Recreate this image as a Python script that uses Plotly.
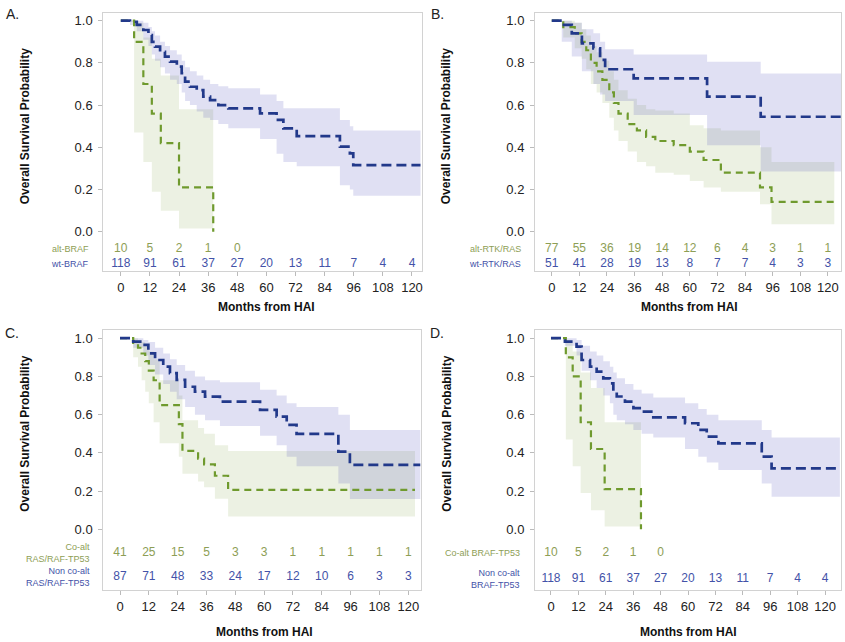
import plotly.graph_objects as go

months = [0, 12, 24, 36, 48, 60, 72, 84, 96, 108, 120]
y_ticks = [0.0, 0.2, 0.4, 0.6, 0.8, 1.0]
y_ticktext = ["0.0", "0.2", "0.4", "0.6", "0.8", "1.0"]

# ---------- Panel A ----------
a_alt_t = [0, 5.5, 9.3, 12.8, 16.5, 24.0, 38.1]
a_alt_s = [1.0, 0.90, 0.70, 0.56, 0.42, 0.21, 0.0]
a_alt_hi = [1.0, 0.99, 0.92, 0.82, 0.74, 0.58]
a_alt_lo = [1.0, 0.47, 0.33, 0.19, 0.10, 0.015]
a_wt_t = [0, 3.8, 6.6, 9.3, 11.4, 12.8, 14.1, 16.2, 18.2, 20.3, 23.1, 25.1, 26.5, 28.5, 31.3, 34.0, 36.8, 40.2, 44.3, 57.4, 64.2, 67.0, 72.5, 90.3, 94.4, 95.8]
a_wt_s = [1.0, 0.995, 0.98, 0.956, 0.932, 0.90, 0.877, 0.853, 0.83, 0.806, 0.782, 0.751, 0.711, 0.687, 0.671, 0.640, 0.624, 0.600, 0.585, 0.561, 0.53, 0.49, 0.453, 0.403, 0.371, 0.316]
a_wt_hi = [1.0, 1.0, 1.0, 0.99, 0.97, 0.95, 0.93, 0.90, 0.88, 0.86, 0.84, 0.81, 0.78, 0.76, 0.74, 0.72, 0.70, 0.69, 0.68, 0.65, 0.62, 0.585, 0.585, 0.53, 0.50, 0.48]
a_wt_lo = [1.0, 0.98, 0.95, 0.91, 0.88, 0.84, 0.81, 0.78, 0.75, 0.72, 0.70, 0.66, 0.62, 0.60, 0.57, 0.54, 0.53, 0.51, 0.49, 0.44, 0.37, 0.33, 0.31, 0.22, 0.20, 0.17]
a_wt_end = 123.5
a_risk_alt = [10, 5, 2, 1, 0]
a_risk_wt = [118, 91, 61, 37, 27, 20, 13, 11, 7, 4, 4]

# ---------- Panel B ----------
b_alt_t = [0, 5, 10, 13, 15, 17, 19.5, 22, 25, 27, 29, 33, 37, 41, 45, 53, 60, 66, 73.5, 90.5, 95.5]
b_alt_s = [1.0, 0.97, 0.94, 0.90, 0.86, 0.80, 0.76, 0.72, 0.66, 0.61, 0.56, 0.51, 0.48, 0.45, 0.43, 0.41, 0.38, 0.34, 0.28, 0.21, 0.142]
b_alt_hi = [1.0, 1.0, 0.99, 0.96, 0.93, 0.88, 0.85, 0.81, 0.76, 0.72, 0.67, 0.63, 0.60, 0.58, 0.575, 0.56, 0.505, 0.49, 0.48, 0.40, 0.33]
b_alt_lo = [1.0, 0.92, 0.87, 0.82, 0.77, 0.70, 0.66, 0.61, 0.54, 0.48, 0.43, 0.38, 0.33, 0.31, 0.28, 0.27, 0.24, 0.21, 0.19, 0.13, 0.035]
b_alt_end = 122.8
b_wt_t = [0, 4.35, 8.7, 13.1, 18.1, 21.0, 23.2, 35.6, 67.5, 90.8]
b_wt_s = [1.0, 0.98, 0.94, 0.893, 0.869, 0.814, 0.77, 0.727, 0.640, 0.545]
b_wt_hi = [1.0, 1.0, 0.99, 0.96, 0.94, 0.90, 0.865, 0.84, 0.806, 0.75]
b_wt_lo = [1.0, 0.90, 0.83, 0.76, 0.70, 0.65, 0.62, 0.553, 0.41, 0.285]
b_wt_end = 125.7
b_risk_alt = [77, 55, 36, 19, 14, 12, 6, 4, 3, 1, 1]
b_risk_wt = [51, 41, 28, 19, 13, 8, 7, 7, 4, 3, 3]

# ---------- Panel C ----------
c_co_t = [0, 5.5, 7.5, 9, 10.5, 12, 14, 16.5, 24.5, 26, 32.5, 35, 39.5, 45]
c_co_s = [1.0, 0.975, 0.95, 0.92, 0.88, 0.83, 0.78, 0.65, 0.55, 0.41, 0.37, 0.34, 0.28, 0.206]
c_co_hi = [1.0, 1.0, 0.99, 0.98, 0.96, 0.93, 0.89, 0.78, 0.70, 0.57, 0.53, 0.50, 0.44, 0.41]
c_co_lo = [1.0, 0.90, 0.85, 0.78, 0.72, 0.66, 0.56, 0.45, 0.38, 0.29, 0.25, 0.22, 0.16, 0.067]
c_co_end = 122.8
c_non_t = [0, 5.5, 9.7, 11.8, 14.6, 18.0, 20.8, 23.6, 27.1, 31.2, 35.4, 41.6, 58.3, 65.2, 69.4, 73.5, 90.9, 95.7]
c_non_s = [1.0, 0.982, 0.965, 0.921, 0.886, 0.851, 0.817, 0.782, 0.746, 0.720, 0.694, 0.668, 0.625, 0.59, 0.546, 0.499, 0.406, 0.337]
c_non_hi = [1.0, 1.0, 0.99, 0.98, 0.95, 0.92, 0.89, 0.86, 0.83, 0.80, 0.78, 0.77, 0.73, 0.70, 0.66, 0.64, 0.60, 0.52]
c_non_lo = [1.0, 0.95, 0.91, 0.86, 0.81, 0.76, 0.72, 0.68, 0.64, 0.60, 0.57, 0.54, 0.49, 0.44, 0.38, 0.33, 0.24, 0.158]
c_non_end = 125.0
c_risk_co = [41, 25, 15, 5, 3, 3, 1, 1, 1, 1, 1]
c_risk_non = [87, 71, 48, 33, 24, 17, 12, 10, 6, 3, 3]

# ---------- Panel D ----------
d_co_t = [0, 6.5, 9.5, 13, 17.5, 23.5, 39.4]
d_co_s = [1.0, 0.90, 0.80, 0.56, 0.42, 0.21, 0.0]
d_co_hi = [1.0, 0.99, 0.93, 0.82, 0.74, 0.56]
d_co_lo = [1.0, 0.47, 0.33, 0.19, 0.10, 0.015]
d_non_t = [0, 6.1, 11.2, 13.4, 17.1, 20.0, 22.9, 25.8, 27.3, 28.8, 32.4, 36.1, 39.7, 44.8, 58.7, 64.5, 68.2, 73.3, 92.3, 96.6]
d_non_s = [1.0, 0.982, 0.956, 0.886, 0.851, 0.825, 0.79, 0.764, 0.72, 0.695, 0.668, 0.634, 0.616, 0.586, 0.555, 0.52, 0.485, 0.45, 0.38, 0.319]
d_non_hi = [1.0, 1.0, 0.99, 0.96, 0.93, 0.91, 0.88, 0.85, 0.82, 0.79, 0.76, 0.73, 0.71, 0.69, 0.66, 0.63, 0.60, 0.57, 0.52, 0.48]
d_non_lo = [1.0, 0.96, 0.91, 0.83, 0.78, 0.74, 0.70, 0.66, 0.60, 0.57, 0.55, 0.52, 0.50, 0.48, 0.42, 0.38, 0.35, 0.31, 0.24, 0.17]
d_non_end = 126.5
d_risk_co = [10, 5, 2, 1, 0]
d_risk_non = [118, 91, 61, 37, 27, 20, 13, 11, 7, 4, 4]

# ---------- styling ----------
W, H = 845, 642
FONT = "Liberation Sans, Arial, sans-serif"
BLUE_LINE = "#22398a"
GREEN_LINE = "#6f9a2e"
BLUE_BAND = "rgba(60,60,180,0.16)"
GREEN_BAND = "rgba(110,150,40,0.13)"
BLUE_TXT = "#4352a8"
GREEN_TXT = "#8d9e55"
FRAME = "#d2d2d2"

def px_x(p):
    return p / W

def px_y(p):
    return 1 - p / H

panels = [
    dict(key="", lab="A.", lab_xy=(12, 14), xdom=(103.3, 421.7), ydom=(13, 271),
         xr=(-7.2, 124.0), yr=(-0.186, 1.0365), rows=(-0.082, -0.153), title_y=307, ytitle_x=25,
         label_x=91,
         g=(a_alt_t, a_alt_s, a_alt_hi, a_alt_lo, None),
         b=(a_wt_t, a_wt_s, a_wt_hi, a_wt_lo, a_wt_end),
         rg=a_risk_alt, rb=a_risk_wt,
         lg=("alt-BRAF", -0.082), lb=("wt-BRAF", -0.153)),
    dict(key="2", lab="B.", lab_xy=(437, 14), xdom=(535, 841), ydom=(13, 271),
         xr=(-7.28, 125.7), yr=(-0.186, 1.0365), rows=(-0.082, -0.153), title_y=307, ytitle_x=446,
         label_x=523,
         g=(b_alt_t, b_alt_s, b_alt_hi, b_alt_lo, b_alt_end),
         b=(b_wt_t, b_wt_s, b_wt_hi, b_wt_lo, b_wt_end),
         rg=b_risk_alt, rb=b_risk_wt,
         lg=("alt-RTK/RAS", -0.082), lb=("wt-RTK/RAS", -0.153)),
    dict(key="3", lab="C.", lab_xy=(12, 333), xdom=(103.3, 421), ydom=(330, 590),
         xr=(-6.95, 125.3), yr=(-0.318, 1.043), rows=(-0.1225, -0.248), title_y=632, ytitle_x=25,
         label_x=92,
         g=(c_co_t, c_co_s, c_co_hi, c_co_lo, c_co_end),
         b=(c_non_t, c_non_s, c_non_hi, c_non_lo, c_non_end),
         rg=c_risk_co, rb=c_risk_non,
         lg=("Co-alt<br>RAS/RAF-TP53", -0.1225), lb=("Non co-alt<br>RAS/RAF-TP53", -0.248)),
    dict(key="4", lab="D.", lab_xy=(437, 333), xdom=(535, 841), ydom=(330, 590),
         xr=(-7.0, 127.0), yr=(-0.318, 1.043), rows=(-0.1225, -0.26), title_y=632, ytitle_x=447,
         label_x=522,
         g=(d_co_t, d_co_s, d_co_hi, d_co_lo, None),
         b=(d_non_t, d_non_s, d_non_hi, d_non_lo, d_non_end),
         rg=d_risk_co, rb=d_risk_non,
         lg=("Co-alt BRAF-TP53", -0.1225), lb=("Non co-alt<br>BRAF-TP53", -0.26)),
]

fig = go.Figure()


def add_group(fig, xa, ya, data, line_color, band_color, dash, width):
    t, s, hi, lo, end = data
    if end is None:
        # curve ends with a drop to zero at its last time
        bt = list(t[:-1]) + [t[-1]]
        blo = list(lo) + [lo[-1]]
        bhi = list(hi) + [hi[-1]]
        lt, ls = list(t), list(s)
    else:
        bt = list(t) + [end]
        blo = list(lo) + [lo[-1]]
        bhi = list(hi) + [hi[-1]]
        lt, ls = list(t) + [end], list(s) + [s[-1]]
    fig.add_trace(go.Scatter(x=bt, y=blo, xaxis=xa, yaxis=ya, mode="lines",
                             line=dict(width=0, shape="hv", color=band_color),
                             hoverinfo="skip", showlegend=False))
    fig.add_trace(go.Scatter(x=bt, y=bhi, xaxis=xa, yaxis=ya, mode="lines",
                             line=dict(width=0, shape="hv", color=band_color),
                             fill="tonexty", fillcolor=band_color,
                             hoverinfo="skip", showlegend=False))
    return (lt, ls, line_color, dash, width)


layout_axes = {}
annotations = []
for p in panels:
    k = p["key"]
    xa, ya = "x" + k, "y" + k
    g_line = add_group(fig, xa, ya, p["g"], GREEN_LINE, GREEN_BAND, "7px,5px", 2.2)
    b_line = add_group(fig, xa, ya, p["b"], BLUE_LINE, BLUE_BAND, "10px,5px", 2.7)
    for lt, ls, col, dash, wd in (g_line, b_line):
        fig.add_trace(go.Scatter(x=lt, y=ls, xaxis=xa, yaxis=ya, mode="lines",
                                 line=dict(color=col, width=wd, shape="hv", dash=dash),
                                 showlegend=False))
    # at-risk numbers
    fig.add_trace(go.Scatter(x=months[:len(p["rg"])], y=[p["rows"][0]] * len(p["rg"]),
                             xaxis=xa, yaxis=ya, mode="text",
                             text=[str(v) for v in p["rg"]],
                             textfont=dict(family=FONT, size=12, color=GREEN_TXT),
                             showlegend=False, hoverinfo="skip"))
    fig.add_trace(go.Scatter(x=months[:len(p["rb"])], y=[p["rows"][1]] * len(p["rb"]),
                             xaxis=xa, yaxis=ya, mode="text",
                             text=[str(v) for v in p["rb"]],
                             textfont=dict(family=FONT, size=12, color=BLUE_TXT),
                             showlegend=False, hoverinfo="skip"))
    xname = "xaxis" + k
    yname = "yaxis" + k
    layout_axes[xname] = dict(
        domain=[px_x(p["xdom"][0]), px_x(p["xdom"][1])], range=list(p["xr"]),
        anchor=ya, tickvals=months, ticks="outside", ticklen=4, tickcolor="#bbbbbb",
        showline=True, mirror=True, linecolor=FRAME, linewidth=1, showgrid=False,
        zeroline=False, tickfont=dict(family=FONT, size=13, color="#222222"),
        fixedrange=True)
    layout_axes[yname] = dict(
        domain=[px_y(p["ydom"][1]), px_y(p["ydom"][0])], range=list(p["yr"]),
        anchor=xa, tickvals=y_ticks, ticktext=y_ticktext, ticks="outside", ticklen=4,
        tickcolor="#bbbbbb", ticklabelstandoff=3,
        showline=True, mirror=True, linecolor=FRAME, linewidth=1, showgrid=False,
        zeroline=False, tickfont=dict(family=FONT, size=13, color="#222222"),
        fixedrange=True)
    # panel label
    annotations.append(dict(text=p["lab"], xref="paper", yref="paper",
                            x=px_x(p["lab_xy"][0]), y=px_y(p["lab_xy"][1]),
                            xanchor="center", yanchor="middle", showarrow=False,
                            font=dict(family=FONT, size=14, color="#222222")))
    # y title
    annotations.append(dict(text="<b>Overall Survival Probability</b>", xref="paper", yref=ya,
                            x=px_x(p["ytitle_x"]), y=0.5, textangle=-90,
                            xanchor="center", yanchor="middle", showarrow=False,
                            font=dict(family=FONT, size=12, color="#111111")))
    # x title
    annotations.append(dict(text="<b>Months from HAI</b>", xref=xa, yref="paper",
                            x=60, y=px_y(p["title_y"]),
                            xanchor="center", yanchor="middle", showarrow=False,
                            font=dict(family=FONT, size=12, color="#111111")))
    # row labels
    for (txt, yv), col in ((p["lg"], GREEN_TXT), (p["lb"], BLUE_TXT)):
        annotations.append(dict(text=txt, xref="paper", yref=ya,
                                x=px_x(p["label_x"]), y=yv, xanchor="right", yanchor="middle",
                                align="right", showarrow=False,
                                font=dict(family=FONT, size=9, color=col)))

fig.update_layout(
    width=W, height=H, margin=dict(l=0, r=0, t=0, b=0),
    paper_bgcolor="white", plot_bgcolor="white",
    showlegend=False, hovermode=False, annotations=annotations, **layout_axes)

fig.write_html("out.html", config={"displayModeBar": False, "staticPlot": True},
               post_script="document.body.style.margin='0';document.body.style.overflow='hidden';")
